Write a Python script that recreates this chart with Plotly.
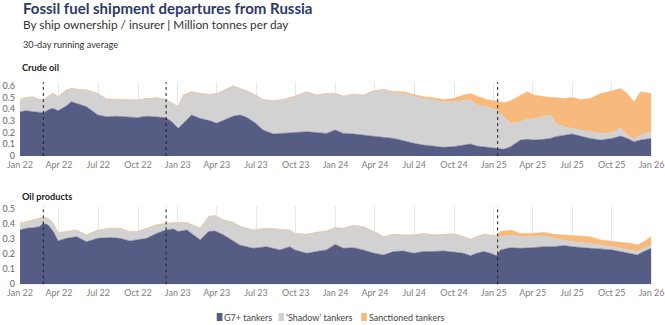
import plotly.graph_objects as go

# ---------------- Data ----------------
crude_dates = [
    "2022-01-01", "2022-01-16", "2022-01-31", "2022-02-15", "2022-02-24", "2022-03-11",
    "2022-03-19", "2022-03-30", "2022-04-18", "2022-04-30", "2022-05-20", "2022-06-04",
    "2022-06-30", "2022-07-20", "2022-08-13", "2022-09-05", "2022-09-29", "2022-10-21",
    "2022-11-13", "2022-12-04", "2022-12-18", "2023-01-02", "2023-01-14", "2023-02-02",
    "2023-02-22", "2023-03-17", "2023-04-01", "2023-04-24", "2023-05-09", "2023-05-25",
    "2023-06-09", "2023-06-30", "2023-07-17", "2023-08-10", "2023-09-02", "2023-09-29",
    "2023-10-26", "2023-11-18", "2023-12-11", "2023-12-31", "2024-01-19", "2024-02-11",
    "2024-03-05", "2024-03-30", "2024-04-21", "2024-05-14", "2024-06-06", "2024-06-30",
    "2024-07-22", "2024-08-14", "2024-09-06", "2024-09-30", "2024-10-23", "2024-11-08",
    "2024-11-23", "2024-12-16", "2025-01-09", "2025-01-24", "2025-02-09", "2025-03-04",
    "2025-03-19", "2025-04-04", "2025-04-27", "2025-05-12", "2025-05-24", "2025-06-12",
    "2025-07-01", "2025-07-20", "2025-08-12", "2025-09-05", "2025-10-02", "2025-10-21",
    "2025-11-06", "2025-11-21", "2025-12-07", "2025-12-31",
]
crude_g7 = [
    0.378, 0.386, 0.378, 0.370, 0.370, 0.400,
    0.406, 0.386, 0.426, 0.463, 0.435, 0.420,
    0.350, 0.335, 0.340, 0.335, 0.327, 0.340,
    0.335, 0.327, 0.293, 0.236, 0.280, 0.350,
    0.320, 0.300, 0.280, 0.320, 0.340, 0.350,
    0.330, 0.280, 0.222, 0.188, 0.193, 0.200,
    0.207, 0.200, 0.193, 0.222, 0.193, 0.188,
    0.179, 0.170, 0.159, 0.150, 0.131, 0.108,
    0.094, 0.085, 0.074, 0.080, 0.094, 0.102,
    0.085, 0.074, 0.065, 0.057, 0.080, 0.136,
    0.142, 0.136, 0.142, 0.150, 0.165, 0.179,
    0.188, 0.170, 0.150, 0.136, 0.150, 0.170,
    0.150, 0.122, 0.136, 0.150,
]
crude_shadow = [
    0.105, 0.114, 0.128, 0.113, 0.107, 0.120,
    0.128, 0.120, 0.137, 0.114, 0.133, 0.143,
    0.184, 0.151, 0.143, 0.142, 0.150, 0.150,
    0.162, 0.156, 0.156, 0.184, 0.240, 0.198,
    0.214, 0.226, 0.254, 0.248, 0.257, 0.227,
    0.227, 0.240, 0.261, 0.284, 0.290, 0.311,
    0.341, 0.320, 0.341, 0.312, 0.318, 0.340,
    0.341, 0.387, 0.409, 0.390, 0.403, 0.403,
    0.396, 0.398, 0.389, 0.383, 0.383, 0.381,
    0.350, 0.346, 0.327, 0.278, 0.198, 0.157,
    0.171, 0.184, 0.193, 0.200, 0.113, 0.071,
    0.048, 0.052, 0.057, 0.057, 0.050, 0.066,
    0.029, 0.020, 0.043, 0.057,
]
crude_sanctioned = [
    0, 0, 0, 0, 0, 0,
    0, 0, 0, 0, 0, 0,
    0, 0, 0, 0, 0, 0,
    0, 0, 0, 0, 0, 0,
    0, 0, 0, 0, 0, 0,
    0, 0, 0, 0, 0, 0,
    0, 0, 0, 0, 0, 0,
    0, 0, 0, 0.010, 0.014, 0.015,
    0.016, 0.014, 0.020, 0.027, 0.043, 0.051,
    0.076, 0.063, 0.071, 0.120, 0.194, 0.227,
    0.235, 0.200, 0.171, 0.150, 0.222, 0.240,
    0.264, 0.261, 0.283, 0.341, 0.357, 0.341,
    0.355, 0.321, 0.369, 0.327,
]

prod_dates = [
    "2022-01-01", "2022-01-16", "2022-01-31", "2022-02-15", "2022-02-24", "2022-03-07",
    "2022-03-19", "2022-03-30", "2022-04-18", "2022-05-12", "2022-06-04", "2022-06-30",
    "2022-07-28", "2022-08-20", "2022-09-12", "2022-09-29", "2022-10-21", "2022-11-13",
    "2022-12-04", "2022-12-22", "2023-01-02", "2023-01-22", "2023-02-06", "2023-02-22",
    "2023-03-13", "2023-03-28", "2023-04-17", "2023-05-10", "2023-05-25", "2023-06-24",
    "2023-07-25", "2023-08-25", "2023-09-17", "2023-09-29", "2023-10-26", "2023-11-18",
    "2023-12-11", "2023-12-31", "2024-01-19", "2024-02-11", "2024-03-05", "2024-03-30",
    "2024-04-21", "2024-05-14", "2024-06-06", "2024-06-30", "2024-07-22", "2024-08-14",
    "2024-09-06", "2024-09-30", "2024-10-23", "2024-11-08", "2024-11-23", "2024-12-09",
    "2024-12-24", "2025-01-07", "2025-01-16", "2025-02-09", "2025-03-04", "2025-03-31",
    "2025-04-27", "2025-05-20", "2025-06-12", "2025-07-01", "2025-07-20", "2025-08-12",
    "2025-09-05", "2025-10-02", "2025-10-21", "2025-11-14", "2025-11-29", "2025-12-14",
    "2025-12-31",
]
prod_g7 = [
    0.360, 0.372, 0.376, 0.383, 0.405, 0.394,
    0.350, 0.288, 0.305, 0.316, 0.283, 0.305,
    0.310, 0.305, 0.288, 0.294, 0.305, 0.338,
    0.360, 0.367, 0.350, 0.360, 0.327, 0.294,
    0.350, 0.354, 0.327, 0.283, 0.260, 0.239,
    0.250, 0.228, 0.250, 0.228, 0.206, 0.217,
    0.228, 0.265, 0.239, 0.243, 0.228, 0.206,
    0.195, 0.217, 0.221, 0.206, 0.217, 0.217,
    0.221, 0.214, 0.206, 0.190, 0.206, 0.217,
    0.206, 0.190, 0.228, 0.243, 0.239, 0.243,
    0.250, 0.250, 0.257, 0.250, 0.243, 0.239,
    0.235, 0.228, 0.217, 0.206, 0.195, 0.217,
    0.239,
]
prod_shadow = [
    0.045, 0.044, 0.051, 0.055, 0.040, 0.044,
    0.055, 0.055, 0.045, 0.044, 0.044, 0.055,
    0.062, 0.067, 0.062, 0.056, 0.067, 0.056,
    0.045, 0.043, 0.060, 0.050, 0.067, 0.078,
    0.100, 0.102, 0.100, 0.127, 0.125, 0.121,
    0.122, 0.137, 0.110, 0.110, 0.126, 0.128,
    0.126, 0.111, 0.133, 0.147, 0.155, 0.144,
    0.121, 0.115, 0.106, 0.121, 0.121, 0.110,
    0.111, 0.121, 0.110, 0.110, 0.110, 0.115,
    0.121, 0.133, 0.088, 0.084, 0.077, 0.073,
    0.073, 0.055, 0.037, 0.033, 0.036, 0.033,
    0.026, 0.022, 0.022, 0.022, 0.022, 0.022,
    0.022,
]
prod_sanctioned = [
    0, 0, 0, 0, 0, 0,
    0, 0, 0, 0, 0, 0,
    0, 0, 0, 0, 0, 0,
    0, 0, 0, 0, 0, 0,
    0, 0, 0, 0, 0, 0,
    0, 0, 0, 0, 0, 0,
    0, 0, 0, 0, 0, 0,
    0, 0, 0, 0, 0, 0,
    0, 0, 0, 0, 0, 0,
    0, 0, 0.034, 0.033, 0.022, 0.022,
    0.022, 0.027, 0.033, 0.040, 0.037, 0.044,
    0.033, 0.038, 0.040, 0.044, 0.044, 0.044,
    0.055,
]

series_names = ["G7+ tankers", "\u2018Shadow\u2019 tankers", "Sanctioned tankers"]
event_dates = ["2022-02-24", "2022-12-05", "2025-01-10"]
crude_ticks = [0, 0.1, 0.2, 0.3, 0.4, 0.5, 0.6]
prod_ticks = [0, 0.1, 0.2, 0.3, 0.4, 0.5]

# ---------------- Styling ----------------
colors = ["#565d84", "#d2d2d2", "#f8b97c"]
W, H = 665, 325
FONT = "Lato"


def py(px):
    return 1 - px / H


fig = go.Figure()

for i, (name, vals) in enumerate(zip(series_names, [crude_g7, crude_shadow, crude_sanctioned])):
    fig.add_trace(go.Scatter(
        x=crude_dates, y=vals, name=name, stackgroup="crude", mode="lines",
        line=dict(width=0.5, color=colors[i]), fillcolor=colors[i],
        xaxis="x", yaxis="y", showlegend=False,
    ))
for i, (name, vals) in enumerate(zip(series_names, [prod_g7, prod_shadow, prod_sanctioned])):
    fig.add_trace(go.Scatter(
        x=prod_dates, y=vals, name=name, stackgroup="prod", mode="lines",
        line=dict(width=0.5, color=colors[i]), fillcolor=colors[i],
        xaxis="x2", yaxis="y2", showlegend=False,
    ))

xcommon = dict(
    type="date", range=["2022-01-01", "2026-01-02"], dtick="M3", tick0="2022-01-01",
    tickformat="%b %y", showgrid=True, gridcolor="#e8e8e8", gridwidth=1,
    zeroline=False, showline=False, ticks="", ticklabeloverflow="allow",
    ticklabelstandoff=2,
    tickfont=dict(family=FONT, size=9, color="#808080"),
    domain=[0, 1], fixedrange=True,
)
ycommon = dict(
    showgrid=False, zeroline=False, showline=False, ticks="",
    tickfont=dict(family=FONT, size=9, color="#666"), ticklabelstandoff=4,
    ticklabeloverflow="allow", fixedrange=True,
)

fig.update_layout(
    width=W, height=H,
    margin=dict(l=20, r=13, t=0, b=0, autoexpand=False),
    paper_bgcolor="white", plot_bgcolor="white",
    font=dict(family=FONT, color="#333"),
    xaxis=dict(xcommon, anchor="y"),
    yaxis=dict(ycommon, domain=[py(156), py(82.2)], range=[0, 0.63], tickvals=crude_ticks,
               ticktext=[f"{v:g}" for v in crude_ticks], anchor="x"),
    xaxis2=dict(xcommon, anchor="y2"),
    yaxis2=dict(ycommon, domain=[py(284.3), py(206)], range=[0, 0.52], tickvals=prod_ticks,
                ticktext=[f"{v:g}" for v in prod_ticks], anchor="x2"),
    showlegend=False,
)

shapes = []
for xr, yr in [("x", "y domain"), ("x2", "y2 domain")]:
    for d in event_dates:
        shapes.append(dict(type="line", xref=xr, yref=yr, x0=d, x1=d, y0=0, y1=1,
                           line=dict(color="#222", width=1, dash="dot"), layer="above"))

# legend (custom, small swatches as in the reference)
legend_swatch_x = [207, 272, 359]
legend_text_x = [215, 280, 367]
leg_y = 317
for i in range(3):
    shapes.append(dict(type="rect", xref="paper", yref="paper",
                       x0=legend_swatch_x[i] / W, x1=(legend_swatch_x[i] + 6) / W,
                       y0=py(leg_y + 4), y1=py(leg_y - 4),
                       fillcolor=colors[i], line=dict(width=0)))
fig.update_layout(shapes=shapes)

annots = [
    dict(text="<b>Fossil fuel shipment departures from Russia</b>", x=1 / W, y=py(8),
         font=dict(family=FONT, size=15, color="#2c3a68")),
    dict(text="By ship ownership / insurer | Million tonnes per day", x=1 / W, y=py(25),
         font=dict(family=FONT, size=11.8, color="#333")),
    dict(text="30-day running average", x=1 / W, y=py(44),
         font=dict(family=FONT, size=9.2, color="#333")),
    dict(text="<b>Crude oil</b>", x=0 / W, y=py(67),
         font=dict(family=FONT, size=9.2, color="#222")),
    dict(text="<b>Oil products</b>", x=0 / W, y=py(196),
         font=dict(family=FONT, size=9.2, color="#222")),
]
for i, name in enumerate(series_names):
    annots.append(dict(text=name, x=(legend_text_x[i] - 2) / W, y=py(leg_y),
                       font=dict(family=FONT, size=9, color="#444")))
for a in annots:
    a.update(xref="paper", yref="paper", xanchor="left", yanchor="middle", showarrow=False)
fig.update_layout(annotations=annots)

fig.write_html("out.html")
